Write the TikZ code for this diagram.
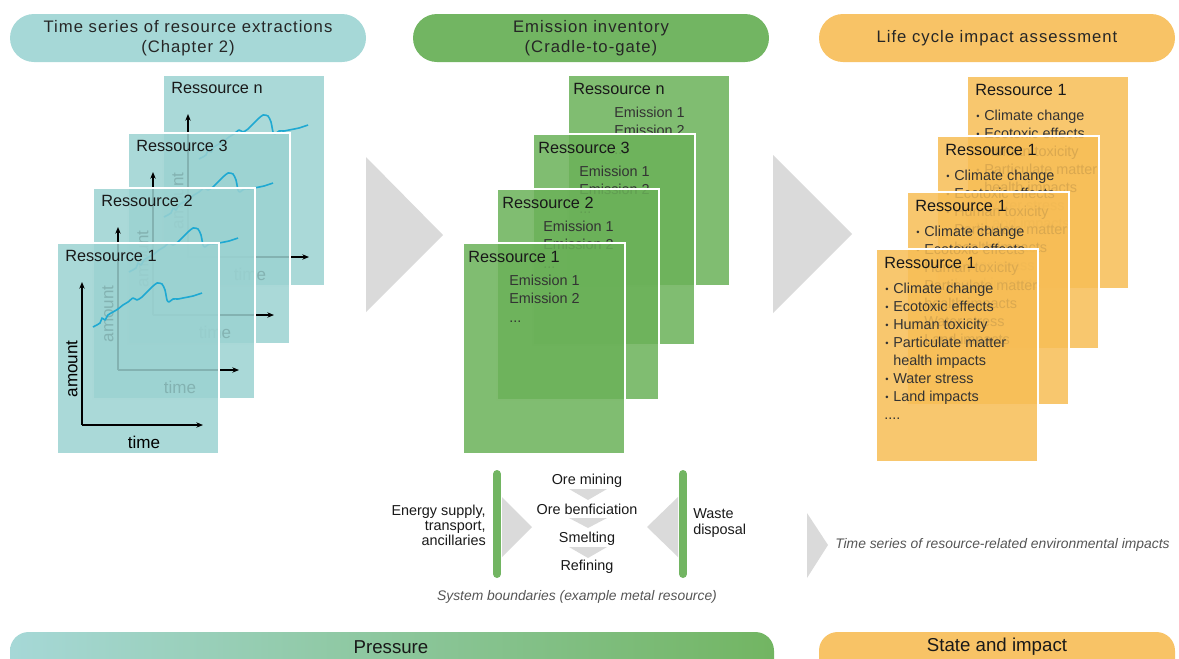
\documentclass[tikz,border=0pt]{standalone}
\usepackage{fontspec}
\setmainfont{Liberation Sans}
\newfontfamily\headfont[LetterSpace=6]{Liberation Sans}
\usetikzlibrary{arrows.meta}
\definecolor{res-teal}{HTML}{A6D8D7}
\definecolor{res-green}{HTML}{72B562}
\definecolor{res-orange}{HTML}{F8C366}
\definecolor{panel-teal}{HTML}{9BD2D1}
\definecolor{panel-green}{HTML}{6AB158}
\definecolor{panel-orange}{HTML}{F7BD55}
\definecolor{res-curve}{HTML}{1FA9D2}
\definecolor{res-gray}{HTML}{DADADA}
\definecolor{res-caption}{HTML}{555555}

\tikzset{
  pill/.style={minimum width=267pt, minimum height=36pt, rounded corners=18pt, inner sep=0pt,
    align=center, text=black!85, font=\headfont\fontsize{12.5}{15}\selectfont},
  panel/.style={draw=white, line width=1.5pt, fill opacity=0.85},
  ptitle/.style={anchor=west, inner sep=0pt, text=black!90, font=\fontsize{12.2}{14}\selectfont},
  ptext/.style={anchor=base west, inner sep=0pt, text=black!80, font=\fontsize{10.8}{13}\selectfont},
  axis/.style={line width=0.8pt, -{Stealth[length=5pt,width=4pt]}},
  axlabel/.style={inner sep=0pt, font=\fontsize{12.8}{14}\selectfont},
  curve/.style={res-curve, line width=1.2pt, line join=round},
  chevron/.style={fill=res-gray},
  proc/.style={inner sep=0pt, text=black!90, font=\fontsize{10.8}{13}\selectfont},
  caption/.style={inner sep=0pt, text=res-caption, font=\itshape\fontsize{10.4}{12}\selectfont},
}

\begin{document}
\begin{tikzpicture}[x=0.75pt, y=-0.75pt]
    \useasboundingbox (0,0) rectangle (1179,658);

    % headers
    \node[pill, fill=res-teal] (head-ts) at (188,38) {Time series of resource extractions\\(Chapter 2)};
    \node[pill, fill=res-green] (head-ei) at (591,38) {Emission inventory\\(Cradle-to-gate)};
    \node[pill, fill=res-orange] (head-lc) at (997,38) {Life cycle impact assessment};

    % time series stack
    \foreach \px/\py/\lab in {163/75/n, 128/133/3, 93/188/2, 57/243/1} {
      \begin{scope}[shift={(\px,\py)}]
        \path[panel, fill=panel-teal] (0,0) rectangle (162,211);
        \node[ptitle] (ts-\lab) at (8,13) {Ressource \lab};
        \coordinate (ts-\lab-o) at (25,182);
        \coordinate (ts-\lab-y) at (25,39);
        \coordinate (ts-\lab-x) at (146,182);
        \draw[axis] (ts-\lab-o) -- (ts-\lab-y);
        \draw[axis] (ts-\lab-o) -- (ts-\lab-x);
        \node[axlabel, rotate=90] (ts-\lab-amount) at (15,126) {amount};
        \node[axlabel] (ts-\lab-time) at (87,199) {time};
        \draw[curve] plot[smooth, tension=0.4] coordinates {(36,84) (43,80) (45,75) (48,77) (51,72)
          (56,69) (61,66) (66,62) (71,59) (76,55) (80,57) (85,54) (90,49) (95,44) (100,40)
          (105,41) (108,47) (110,57) (112,59) (116,56) (121,56) (126,55) (136,53) (145,50)};
      \end{scope}
    }

    % emission inventory stack
    \foreach \px/\py/\lab in {568/75/n, 533/134/3, 497/189/2, 463/243/1} {
      \begin{scope}[shift={(\px,\py)}]
        \path[panel, fill=panel-green] (0,0) rectangle (162,211);
        \node[ptitle] (ei-\lab) at (5,14) {Ressource \lab};
        \node[ptext] (ei-\lab-e1) at (46,42) {Emission 1};
        \node[ptext] (ei-\lab-e2) at (46,60) {Emission 2};
        \node[ptext] (ei-\lab-dots) at (46,79) {...};
      \end{scope}
    }

    % impact assessment stack
    \foreach \px/\py [count=\k] in {967/76, 937/136, 907/192, 876/249} {
      \begin{scope}[shift={(\px,\py)}]
        \path[panel, fill=panel-orange] (0,0) rectangle (162,213);
        \node[ptitle] (lc-\k) at (8,14) {Ressource 1};
        \foreach \txt/\dot [count=\j] in {Climate change/1, Ecotoxic effects/1, Human toxicity/1,
            Particulate matter/1, health impacts/0, Water stress/1, Land impacts/1} {
          \node[ptext] (lc-\k-\j) at (17,{44+18*(\j-1)}) {\txt};
          \ifnum\dot=1
            \node[ptext, font=\fontsize{7}{7}\selectfont] (lc-\k-b\j) at (9,{43+18*(\j-1)}) {\textbullet};
          \fi
        }
        \node[ptext] (lc-\k-dots) at (8,170) {....};
      \end{scope}
    }

    % big arrows between columns
    \fill[chevron] (366,157) -- (443,235) -- (366,312) -- cycle;
    \fill[chevron] (773,155) -- (852,234) -- (773,313) -- cycle;

    % system boundaries
    \draw[res-green, line width=6pt, line cap=round] (497,474) -- (497,574);
    \draw[res-green, line width=6pt, line cap=round] (683,474) -- (683,574);
    \fill[chevron] (502,497) -- (532,527) -- (502,557) -- cycle;
    \fill[chevron] (678,497) -- (647,527) -- (678,557) -- cycle;
    \node[proc, anchor=east, align=right, font=\fontsize{10.8}{11.3}\selectfont] (inputs) at (486,525)
      {Energy supply,\\transport,\\ancillaries};
    \node[proc, anchor=west, align=left, font=\fontsize{10.8}{12}\selectfont] (waste) at (693,523)
      {Waste\\disposal};
    \node[proc] (mining) at (587,481) {Ore mining};
    \node[proc] (benef) at (587,509) {Ore benficiation};
    \node[proc] (smelt) at (587,539) {Smelting};
    \node[proc] (refine) at (587,567) {Refining};
    \fill[chevron] (569,489) -- (607,489) -- (588,500) -- cycle;
    \fill[chevron] (569,518) -- (607,518) -- (588,528) -- cycle;
    \fill[chevron] (569,547) -- (607,547) -- (588,558) -- cycle;
    \node[caption] (sysb) at (577,597) {System boundaries (example metal resource)};

    \fill[chevron] (807,513) -- (828,545) -- (807,578) -- cycle;
    \node[caption, anchor=west] (impacts) at (835,545) {Time series of resource-related environmental impacts};

    % bottom bars
    \shade[left color=res-teal, right color=res-green, rounded corners=14pt] (10,632) rectangle (774,690);
    \fill[res-orange, rounded corners=14pt] (819,632) rectangle (1175,690);
    \node[proc, font=\fontsize{14}{16}\selectfont] (pressure) at (391,647) {Pressure};
    \node[proc, font=\fontsize{14}{16}\selectfont] (state) at (997,647) {State and impact};
\end{tikzpicture}
\end{document}
